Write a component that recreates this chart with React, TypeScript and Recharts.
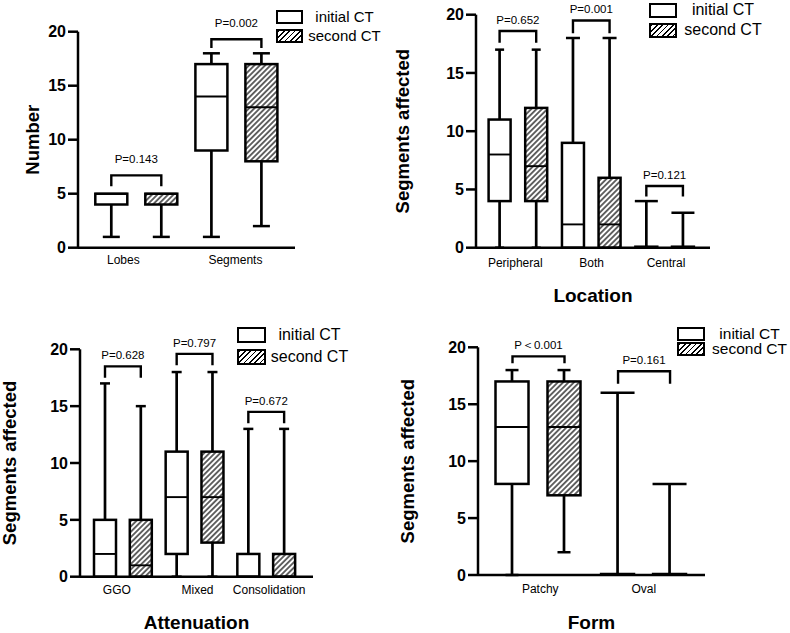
import React from "react";
import { ComposedChart, Bar, XAxis, YAxis, Legend } from "recharts";

const FONT = '"Liberation Sans", Arial, Helvetica, sans-serif';
const SERIES = ["initial CT", "second CT"];
const Y_TICKS = [0, 5, 10, 15, 20];

// box values: [min, q1, median, q3, max]
const numberCategories = ["Lobes", "Segments"];
const numberInitial = [[1, 4, 5, 5, 5], [1, 9, 14, 17, 18]];
const numberSecond = [[1, 4, 5, 5, 5], [2, 8, 13, 17, 18]];
const numberBrackets = [[5.7, 6.7], [18.5, 19.3]];
const numberP = ["P=0.143", "P=0.002"];

const locationCategories = ["Peripheral", "Both", "Central"];
const locationInitial = [[0, 4, 8, 11, 17], [0, 0, 2, 9, 18], [0, 0, 0, 0, 4]];
const locationSecond = [[0, 4, 7, 12, 17], [0, 0, 2, 6, 18], [0, 0, 0, 0, 3]];
const locationBrackets = [[17.6, 18.6], [18.4, 19.5], [4.4, 5.3]];
const locationP = ["P=0.652", "P=0.001", "P=0.121"];

const attenuationCategories = ["GGO", "Mixed", "Consolidation"];
const attenuationInitial = [[0, 0, 2, 5, 17], [0, 2, 7, 11, 18], [0, 0, 0, 2, 13]];
const attenuationSecond = [[0, 0, 1, 5, 15], [0, 3, 7, 11, 18], [0, 0, 0, 2, 13]];
const attenuationBrackets = [[17.5, 18.5], [18.6, 19.6], [13.5, 14.5]];
const attenuationP = ["P=0.628", "P=0.797", "P=0.672"];

const formCategories = ["Patchy", "Oval"];
const formInitial = [[0, 8, 13, 17, 18], [0, 0, 0, 0, 16]];
const formSecond = [[2, 7, 13, 17, 18], [0, 0, 0, 0, 8]];
const formBrackets = [[18.6, 19.2], [16.8, 17.9]];
const formP = ["P\uFF1C0.001", "P=0.161"];

const buildRows = (cats: string[], initial: number[][], second: number[][], brackets: number[][], p: string[]) =>
  cats.map((cat, i) => ({ cat, initial: initial[i], second: second[i], bracket: brackets[i], p: p[i] }));

const LINE = 2.5;
const HATCH = 3.8;

const makeBoxShape = (key: "initial" | "second", id: string, cats: string[], caps: number[]) => (props: any) => {
  const { x, y, width, height, payload } = props;
  const [mn, q1, med, q3, mx] = payload[key];
  const py = (v: number) => y + (height * (mx - v)) / (mx - mn);
  const cx = x + width / 2;
  const half = caps[cats.indexOf(payload.cat)] / 2;
  const hatched = key === "second";
  const pid = `hatch-${id}-${payload.cat}`;
  const top = py(q3);
  const bottom = py(q1);
  return (
    <g>
      {hatched && (
        <defs>
          <pattern id={pid} patternUnits="userSpaceOnUse" width={HATCH} height={HATCH} patternTransform="rotate(45)">
            <rect width={HATCH} height={HATCH} fill="#fff" />
            <line x1={HATCH / 2} y1={0} x2={HATCH / 2} y2={HATCH} stroke="#000" strokeWidth={1.2} />
          </pattern>
        </defs>
      )}
      <line x1={cx} x2={cx} y1={py(mx)} y2={py(mn)} stroke="#000" strokeWidth={2.7} />
      {mx > q3 && <line x1={cx - half} x2={cx + half} y1={py(mx)} y2={py(mx)} stroke="#000" strokeWidth={LINE} />}
      {mn < q1 && <line x1={cx - half} x2={cx + half} y1={py(mn)} y2={py(mn)} stroke="#000" strokeWidth={LINE} />}
      {bottom - top > 0.5 ? (
        <rect
          x={x}
          y={top}
          width={width}
          height={bottom - top}
          fill={hatched ? `url(#${pid})` : "#fff"}
          stroke="#000"
          strokeWidth={LINE}
        />
      ) : (
        <line x1={x - 1.2} x2={x + width + 1.2} y1={top - 1} y2={top - 1} stroke="#000" strokeWidth={LINE} />
      )}
      <line x1={x} x2={x + width} y1={py(med)} y2={py(med)} stroke="#000" strokeWidth={1.9} />
    </g>
  );
};

const makeBracketShape = (gap: number) => (props: any) => {
  const { x, y, width, height, payload } = props;
  return (
    <g>
      <path d={`M${x},${y + height}V${y}H${x + width}V${y + height}`} fill="none" stroke="#000" strokeWidth={2.4} />
      <text x={x + width / 2} y={y - gap} textAnchor="middle" dominantBaseline="central" fontSize={11.5} fill="#000" fontFamily={FONT}>
        {payload.p}
      </text>
    </g>
  );
};

const panels = [
  {
    id: "number", cats: numberCategories, rows: buildRows(numberCategories, numberInitial, numberSecond, numberBrackets, numberP),
    left: 0, top: 0, width: 395, height: 316,
    margin: { top: 31.7, right: 100, bottom: 28.3, left: 18 }, xh: 40,
    padding: { left: 8.3, right: 8.5 }, barSize: 32, barGap: 18, caps: [17, 17],
    tickShift: [-13, -1], tickDy: 12.5, pGap: 16.5,
    yTitle: "Number", yTitleOffset: 45, xTitle: "", xTitleDy: 0,
    legend: { x: 276, y: 10, pitch: 19, iconW: 27, iconH: 14, textCenter: 68.5, fontSize: 15 },
  },
  {
    id: "location", cats: locationCategories, rows: buildRows(locationCategories, locationInitial, locationSecond, locationBrackets, locationP),
    left: 385, top: 0, width: 405, height: 316,
    margin: { top: 14.7, right: 80, bottom: 8.3, left: 31 }, xh: 60,
    padding: { left: 5.6, right: 8.3 }, barSize: 22, barGap: 14.6, caps: [9, 14, 23],
    tickShift: [-3, 0, 1], tickDy: 15.5, pGap: 11.3,
    yTitle: "Segments affected", yTitleOffset: 73.5, xTitle: "Location", xTitleDy: 48,
    legend: { x: 264, y: 3, pitch: 20, iconW: 28, iconH: 14.5, textCenter: 74, fontSize: 16 },
  },
  {
    id: "attenuation", cats: attenuationCategories, rows: buildRows(attenuationCategories, attenuationInitial, attenuationSecond, attenuationBrackets, attenuationP),
    left: 0, top: 316, width: 395, height: 317,
    margin: { top: 33.3, right: 82, bottom: 6.3, left: 20 }, xh: 50,
    padding: { left: 7, right: 11 }, barSize: 22, barGap: 13.8, caps: [10, 10, 10],
    tickShift: [-6, 3, 3], tickDy: 13.5, pGap: 11.3,
    yTitle: "Segments affected", yTitleOffset: 71, xTitle: "Attenuation", xTitleDy: 45.5,
    legend: { x: 237, y: 11, pitch: 22, iconW: 29, iconH: 16, textCenter: 72.5, fontSize: 16 },
  },
  {
    id: "form", cats: formCategories, rows: buildRows(formCategories, formInitial, formSecond, formBrackets, formP),
    left: 385, top: 316, width: 405, height: 317,
    margin: { top: 31.3, right: 85, bottom: 8, left: 33 }, xh: 50,
    padding: { left: 7.5, right: 8.4 }, barSize: 33, barGap: 19, caps: [13, 34],
    tickShift: [2, 0], tickDy: 13.5, pGap: 11.3,
    yTitle: "Segments affected", yTitleOffset: 70.5, xTitle: "Form", xTitleDy: 47,
    legend: { x: 292, y: 10.5, pitch: 15.5, iconW: 28, iconH: 14, textCenter: 72.5, fontSize: 15.5 },
  },
];

type PanelCfg = (typeof panels)[number];

const Panel = ({ cfg }: { cfg: PanelCfg }) => {
  const lg = cfg.legend;

  const renderLegend = (props: any) => {
    const fromPayload = (props.payload || []).map((e: any) => e.value).filter((v: string) => SERIES.includes(v));
    const items = fromPayload.length ? fromPayload : SERIES;
    return (
      <div style={{ position: "relative", width: 160, height: lg.pitch * 2 + lg.iconH, fontFamily: FONT }}>
        {items.map((name: string, i: number) => (
          <div key={name} style={{ position: "absolute", left: 0, top: i * lg.pitch, width: 160, height: lg.iconH }}>
            <div
              style={{
                position: "absolute", left: 0, top: 0, width: lg.iconW, height: lg.iconH, boxSizing: "border-box",
                border: "2.5px solid #000",
                background: name === SERIES[1] ? "repeating-linear-gradient(135deg, #000 0 1.2px, #fff 1.2px 3.8px)" : "#fff",
              }}
            />
            <div
              style={{
                position: "absolute", left: lg.textCenter - 60, width: 120, top: 0, height: lg.iconH,
                lineHeight: `${lg.iconH}px`, textAlign: "center", fontSize: lg.fontSize, color: "#000", whiteSpace: "nowrap",
              }}
            >
              {name}
            </div>
          </div>
        ))}
      </div>
    );
  };

  const catTick = (props: any) => {
    const i = cfg.cats.indexOf(props.payload.value);
    return (
      <text x={props.x + (cfg.tickShift[i] || 0)} y={props.y + cfg.tickDy} textAnchor="middle" dominantBaseline="central" fontSize={12} fill="#000" fontFamily={FONT}>
        {props.payload.value}
      </text>
    );
  };

  const yTitle = (props: any) => {
    const vb = props.viewBox;
    const cx = vb.x + vb.width - cfg.yTitleOffset;
    const cy = vb.y + vb.height / 2;
    return (
      <text x={cx} y={cy} transform={`rotate(-90, ${cx}, ${cy})`} textAnchor="middle" dominantBaseline="central" fontSize={18.5} fontWeight={700} fill="#000" fontFamily={FONT}>
        {cfg.yTitle}
      </text>
    );
  };

  const xTitle = (props: any) => {
    if (!cfg.xTitle) return null;
    const vb = props.viewBox;
    return (
      <text x={vb.x + vb.width / 2} y={vb.y + cfg.xTitleDy} textAnchor="middle" dominantBaseline="central" fontSize={19} fontWeight={700} fill="#000" fontFamily={FONT}>
        {cfg.xTitle}
      </text>
    );
  };

  return (
    <div style={{ position: "absolute", left: cfg.left, top: cfg.top }}>
      <ComposedChart width={cfg.width} height={cfg.height} data={cfg.rows} margin={cfg.margin} barGap={cfg.barGap}>
        <XAxis
          xAxisId="box"
          dataKey="cat"
          padding={cfg.padding}
          height={cfg.xh}
          interval={0}
          tickSize={0}
          tickMargin={0}
          tickLine={false}
          axisLine={{ stroke: "#000", strokeWidth: LINE }}
          tick={catTick}
          label={{ content: xTitle }}
        />
        <XAxis xAxisId="br" dataKey="cat" padding={cfg.padding} hide />
        <YAxis
          domain={[0, 20]}
          ticks={Y_TICKS}
          interval={0}
          width={60}
          tickSize={10}
          tickMargin={2}
          axisLine={{ stroke: "#000", strokeWidth: LINE }}
          tickLine={{ stroke: "#000", strokeWidth: LINE }}
          tick={{ fill: "#000", fontSize: 16, fontWeight: 700, fontFamily: FONT }}
          label={{ content: yTitle }}
        />
        <Legend
          layout="vertical"
          align="center"
          verticalAlign="middle"
          content={renderLegend}
          wrapperStyle={{ left: lg.x, top: lg.y, width: 160, height: lg.pitch * 2 + lg.iconH }}
        />
        <Bar
          xAxisId="box"
          name={SERIES[0]}
          dataKey={(d: any) => [d.initial[0], d.initial[4]]}
          barSize={cfg.barSize}
          shape={makeBoxShape("initial", cfg.id, cfg.cats, cfg.caps)}
          isAnimationActive={false}
        />
        <Bar
          xAxisId="box"
          name={SERIES[1]}
          dataKey={(d: any) => [d.second[0], d.second[4]]}
          barSize={cfg.barSize}
          shape={makeBoxShape("second", cfg.id, cfg.cats, cfg.caps)}
          isAnimationActive={false}
        />
        <Bar
          xAxisId="br"
          name="bracket"
          legendType="none"
          dataKey="bracket"
          barSize={cfg.barSize + cfg.barGap}
          shape={makeBracketShape(cfg.pGap)}
          isAnimationActive={false}
        />
      </ComposedChart>
    </div>
  );
}

export default function App() {
  return (
    <div style={{ position: "absolute", left: 0, top: 0, width: 790, height: 633, background: "#fff", fontFamily: FONT }}>
      {panels.map((cfg) => (
        <Panel key={cfg.id} cfg={cfg} />
      ))}
    </div>
  );
}
